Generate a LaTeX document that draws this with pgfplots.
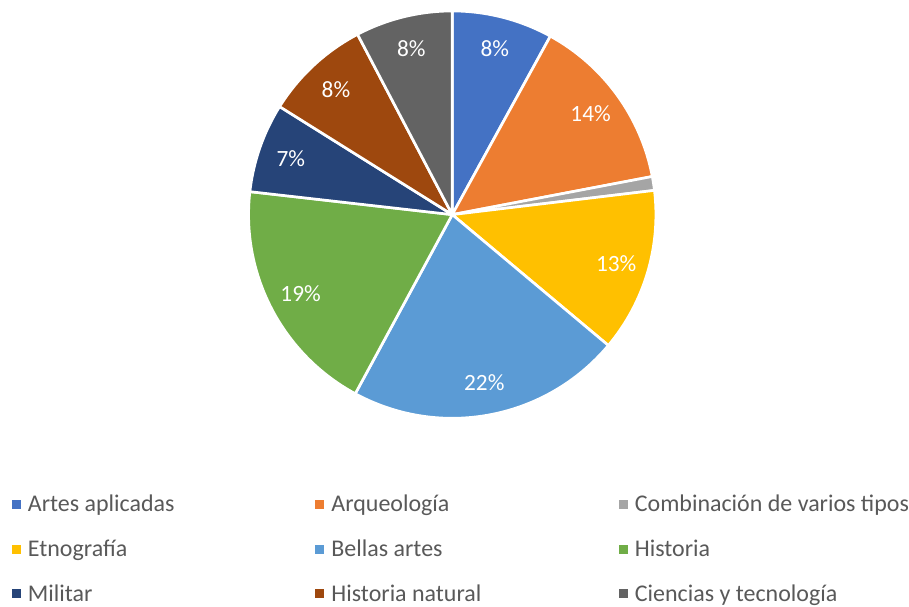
\documentclass[border=0pt]{standalone}
\usepackage{pgfplots}
\usepackage{pgfplotstable}
\pgfplotsset{compat=1.18}
\usepackage{fontspec}
\setmainfont{Carlito}

\definecolor{c0}{HTML}{4472C4}
\definecolor{c1}{HTML}{ED7D31}
\definecolor{c2}{HTML}{A5A5A5}
\definecolor{c3}{HTML}{FFC000}
\definecolor{c4}{HTML}{5B9BD5}
\definecolor{c5}{HTML}{70AD47}
\definecolor{c6}{HTML}{264478}
\definecolor{c7}{HTML}{9E480E}
\definecolor{c8}{HTML}{636363}
\definecolor{legtext}{HTML}{595959}

% share of each museum type (percent), clockwise from 12 o'clock
\pgfplotstableread[col sep=comma]{
idx,value
0,8.0
1,14.0
2,1.1
3,13.0
4,21.8
5,18.9
6,7.1
7,8.4
8,7.7
}\piedata

\newcommand\pieS[1]{\csname pieS#1\endcsname}
\newcommand\pieE[1]{\csname pieE#1\endcsname}
\newcommand\pieM[1]{\csname pieM#1\endcsname}
\newcommand\pieT[1]{\csname pieT#1\endcsname}

\gdef\pieacc{90}
\pgfplotsforeachungrouped \i in {0,...,8}{%
  \pgfplotstablegetelem{\i}{value}\of\piedata
  \let\tmpv\pgfplotsretval
  \pgfmathsetmacro\tmpe{\pieacc-3.6*\tmpv}%
  \pgfmathsetmacro\tmpm{\pieacc-1.8*\tmpv}%
  \pgfmathtruncatemacro\tmpr{round(\tmpv)}%
  \expandafter\xdef\csname pieS\i\endcsname{\pieacc}%
  \expandafter\xdef\csname pieE\i\endcsname{\tmpe}%
  \expandafter\xdef\csname pieM\i\endcsname{\tmpm}%
  \ifdim\tmpv pt<3pt
    \expandafter\xdef\csname pieT\i\endcsname{}%
  \else
    \expandafter\xdef\csname pieT\i\endcsname{\tmpr\%}%
  \fi
  \xdef\pieacc{\tmpe}%
}

\pgfplotsset{sq/.style={legend image code/.code={%
  \fill[##1, draw=none] (0pt,-3.375pt) rectangle (6.75pt,3.375pt);
  \path[draw=none, fill=none] (0pt,0pt) rectangle (12pt,0pt);}}}

\begin{document}
\begin{tikzpicture}
\begin{axis}[
  width=681.75pt, height=454.5pt, scale only axis,
  xmin=0, xmax=909, ymin=0, ymax=606,
  hide axis, clip=false,
  legend columns=3,
  legend cell align=left,
  legend style={at={(0.0132,0.1876)}, anchor=north west, draw=none, fill=none,
    inner sep=0pt, outer sep=0pt, row sep=14.75pt, column sep=0pt,
    font=\fontsize{18}{21.6}\selectfont, text=legtext,
    nodes={inner sep=0pt, text height=15pt, text depth=4pt}},
]
\addplot[draw=none, forget plot] coordinates {(0,0) (909,606)};
\pgfplotsinvokeforeach{0,...,8}{
  \fill[c#1, draw=white, line width=2pt, line join=round] (axis cs:453,391) -- ++(\pieS{#1}:153pt)
    arc[start angle=\pieS{#1}, end angle=\pieE{#1}, radius=153pt] -- cycle;
}
\pgfplotsinvokeforeach{0,...,8}{
  \path (axis cs:453,391) ++(\pieM{#1}:128.5pt) node[text=white, font=\fontsize{17.5}{21}\selectfont] {\pieT{#1}};
}
\addlegendimage{sq, fill=c0}\addlegendentry{\makebox[216pt][l]{Artes aplicadas}}
\addlegendimage{sq, fill=c1}\addlegendentry{\makebox[216pt][l]{Arqueología}}
\addlegendimage{sq, fill=c2}\addlegendentry{Combinación de varios tipos}
\addlegendimage{sq, fill=c3}\addlegendentry{\makebox[216pt][l]{Etnografía}}
\addlegendimage{sq, fill=c4}\addlegendentry{\makebox[216pt][l]{Bellas artes}}
\addlegendimage{sq, fill=c5}\addlegendentry{Historia}
\addlegendimage{sq, fill=c6}\addlegendentry{\makebox[216pt][l]{Militar}}
\addlegendimage{sq, fill=c7}\addlegendentry{\makebox[216pt][l]{Historia natural}}
\addlegendimage{sq, fill=c8}\addlegendentry{Ciencias y tecnología}
\end{axis}
\end{tikzpicture}
\end{document}
